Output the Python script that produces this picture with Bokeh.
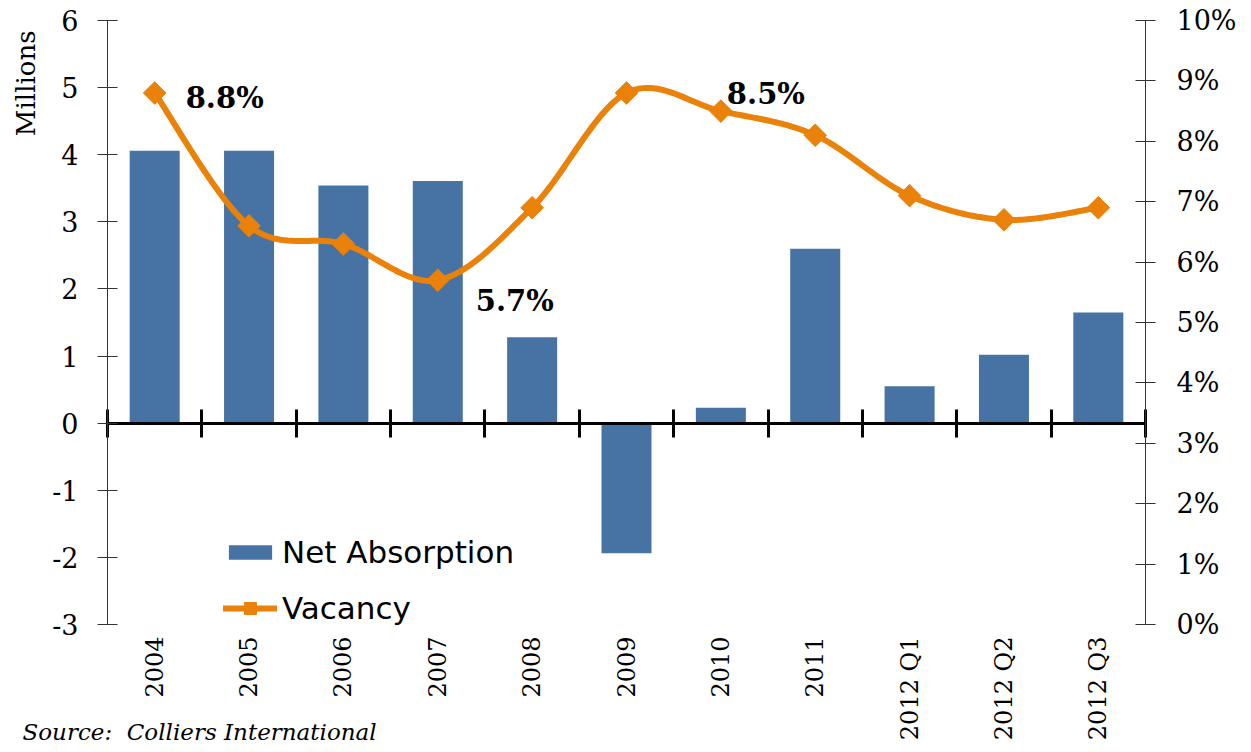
import numpy as np
from bokeh.plotting import figure
from bokeh.models import (Range1d, LinearAxis, FixedTicker, Label, Legend, LegendItem)
from bokeh.embed import file_html
from bokeh.resources import INLINE

# ---------------- data ----------------
categories = ["2004", "2005", "2006", "2007", "2008", "2009", "2010", "2011",
              "2012 Q1", "2012 Q2", "2012 Q3"]
net_absorption = [4.06, 4.06, 3.54, 3.61, 1.28, -1.94, 0.23, 2.60, 0.55, 1.02, 1.65]   # millions
vacancy = [8.8, 6.6, 6.3, 5.7, 6.9, 8.8, 8.5, 8.1, 7.1, 6.7, 6.9]                       # percent
left_ticks = [-3, -2, -1, 0, 1, 2, 3, 4, 5, 6]
left_tick_labels = [str(t) for t in left_ticks]
right_ticks = [0, 1, 2, 3, 4, 5, 6, 7, 8, 9, 10]
right_tick_labels = [f"{t}%" for t in right_ticks]
callout_index = [0, 3, 6]
source_text = "Source:\u00a0 Colliers International"

# ---------------- styles / layout ----------------
BLUE = "#4673A4"
ORANGE = "#EA8109"
SERIF = "DejaVu Serif"
callout_offsets = [(31, -5), (38, -21), (6, 17)]
W, H = 1243, 744
PL, PR, PT, PB = 107, 1145, 20, 624      # plot-area box on the canvas (px)

n = len(categories)
xc = np.arange(n) + 0.5

# ranges chosen so that the data box lands on the plot-area box while the
# frame covers the whole canvas (so that nothing gets clipped)
ux = (PR - PL) / n
uy = (PB - PT) / (left_ticks[-1] - left_ticks[0])
ur = (PB - PT) / (right_ticks[-1] - right_ticks[0])
x_rng = Range1d(-PL / ux, n + (W - PR) / ux)
y_rng = Range1d(left_ticks[0] - (H - PB) / uy, left_ticks[-1] + PT / uy)
r_rng = Range1d(right_ticks[0] - (H - PB) / ur, right_ticks[-1] + PT / ur)

p = figure(width=W, height=H, output_backend="svg", toolbar_location=None,
           x_range=x_rng, y_range=y_rng, min_border=0,
           min_border_left=0, min_border_right=0, min_border_top=0, min_border_bottom=0)
p.extra_y_ranges = {"pct": r_rng}
p.outline_line_color = None
p.grid.visible = False
p.background_fill_color = "white"
p.border_fill_color = "white"

# bottom category axis (at the bottom of the value range)
xa = p.xaxis[0]
xa.fixed_location = left_ticks[0]
xa.ticker = FixedTicker(ticks=[float(v) for v in xc])
xa.major_label_overrides = {float(x): c for x, c in zip(xc, categories)}
xa.major_label_orientation = np.pi / 2
xa.axis_line_color = None
xa.major_tick_line_color = None
xa.minor_tick_line_color = None
xa.major_label_text_font = SERIF
xa.major_label_text_font_size = "24px"
xa.major_label_text_color = "black"
xa.major_label_standoff = 6

# left axis
ya = p.yaxis[0]
ya.fixed_location = 0
ya.bounds = (left_ticks[0], left_ticks[-1])
ya.ticker = FixedTicker(ticks=left_ticks)
ya.major_label_overrides = {t: l for t, l in zip(left_ticks, left_tick_labels)}
ya.minor_tick_line_color = None
ya.major_tick_in = 10
ya.major_tick_out = 10
ya.axis_line_color = "#333333"
ya.major_tick_line_color = "#333333"
ya.major_label_text_font = SERIF
ya.major_label_text_font_size = "27px"
ya.major_label_text_color = "black"
ya.major_label_standoff = 19

# right axis
ra = LinearAxis(y_range_name="pct", ticker=FixedTicker(ticks=right_ticks))
ra.fixed_location = n
ra.bounds = (right_ticks[0], right_ticks[-1])
ra.major_label_overrides = {t: l for t, l in zip(right_ticks, right_tick_labels)}
ra.minor_tick_line_color = None
ra.major_tick_in = 10
ra.major_tick_out = 10
ra.axis_line_color = "#333333"
ra.major_tick_line_color = "#333333"
ra.major_label_text_font = SERIF
ra.major_label_text_font_size = "27px"
ra.major_label_text_color = "black"
ra.major_label_standoff = 21
p.add_layout(ra, "right")

# bars
bars = p.vbar(x=xc, top=net_absorption, bottom=0, width=0.53, fill_color=BLUE, line_color=None)

# zero axis with ticks at category boundaries
za = LinearAxis(ticker=FixedTicker(ticks=list(range(n + 1))))
za.fixed_location = 0
za.bounds = (0, n)
za.axis_line_color = "black"
za.axis_line_width = 3
za.major_tick_line_color = "black"
za.major_tick_line_width = 3
za.major_tick_in = 14
za.major_tick_out = 14
za.minor_tick_line_color = None
za.major_label_text_color = None
za.major_label_text_font_size = "1px"
p.add_layout(za, "below")

# smoothed vacancy line (Bezier smoothing between data points)
vy = np.array(vacancy, dtype=float)
cx, cy = [], []
tt = np.linspace(0, 1, 40)
for i in range(n - 1):
    p0 = np.array([xc[max(i - 1, 0)], vy[max(i - 1, 0)]])
    p1 = np.array([xc[i], vy[i]])
    p2 = np.array([xc[i + 1], vy[i + 1]])
    p3 = np.array([xc[min(i + 2, n - 1)], vy[min(i + 2, n - 1)]])
    c1 = p1 + (p2 - p0) / 6.0
    c2 = p2 - (p3 - p1) / 6.0
    for t in tt:
        pt = ((1 - t) ** 3) * p1 + 3 * ((1 - t) ** 2) * t * c1 + 3 * (1 - t) * t * t * c2 + t ** 3 * p2
        cx.append(float(pt[0])); cy.append(float(pt[1]))
line = p.line(cx, cy, y_range_name="pct", line_color=ORANGE, line_width=6,
              line_join="round", line_cap="round")
marks = p.scatter(xc, vacancy, y_range_name="pct", marker="square", angle=np.pi / 4,
                  size=16, fill_color=ORANGE, line_color=ORANGE)

# callouts
for idx, (dx, dy) in zip(callout_index, callout_offsets):
    p.add_layout(Label(x=float(xc[idx]), y=vacancy[idx], y_range_name="pct",
                       x_offset=dx, y_offset=dy, text=f"{vacancy[idx]}%",
                       text_font=SERIF, text_font_style="bold",
                       text_font_size="29px", text_color="black",
                       text_baseline="middle", text_align="left"))

# Millions label (screen units from the frame's bottom-left = canvas here)
p.add_layout(Label(x=25, x_units="screen", y=H - 30, y_units="screen",
                   text="Millions", angle=np.pi / 2, text_align="right",
                   text_baseline="middle", text_font=SERIF,
                   text_font_size="26px", text_color="black"))

# source note
p.add_layout(Label(x=22, x_units="screen", y=0, y_units="screen",
                   text=source_text, text_font=SERIF, text_font_style="italic",
                   text_font_size="23px", text_color="black", text_baseline="bottom"))

common = dict(orientation="vertical", glyph_width=54, label_standoff=5,
              padding=0, margin=0, border_line_color=None, background_fill_alpha=0,
              label_text_font="DejaVu Sans", label_text_font_size="31px",
              label_text_color="black")
leg1 = Legend(items=[LegendItem(label="Net Absorption", renderers=[bars])],
              location=(223, H - 570), glyph_height=18, **common)
leg2 = Legend(items=[LegendItem(label="Vacancy", renderers=[line, marks])],
              location=(223, H - 626), glyph_height=30, **common)
p.add_layout(leg1)
p.add_layout(leg2)

open("out.html", "w").write(file_html(p, INLINE))
